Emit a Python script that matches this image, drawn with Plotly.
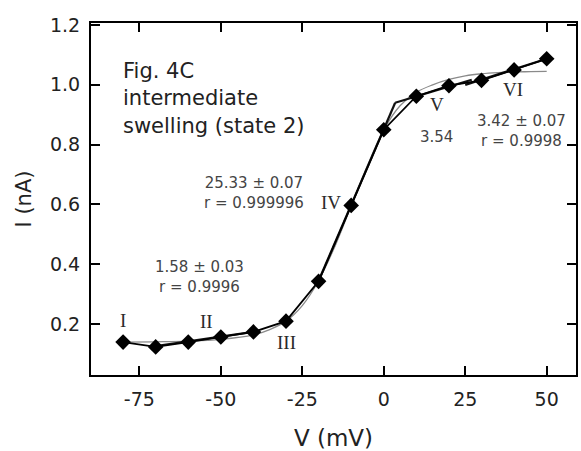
import plotly.graph_objects as go

# Measured data
v_data = [-80, -70, -60, -50, -40, -30, -20, -10, 0, 10, 20, 30, 40, 50]
i_data = [0.14, 0.124, 0.14, 0.157, 0.174, 0.21, 0.343, 0.597, 0.85, 0.962, 0.997, 1.015, 1.05, 1.087]

# Boltzmann fit curve
curve_v = [-80, -70, -60, -50, -40, -35, -30, -25, -20, -15, -10, -5, 0, 5, 10, 15, 20, 25, 30, 35, 40, 45, 50]
curve_i = [0.14, 0.141, 0.143, 0.149, 0.164, 0.182, 0.21, 0.262, 0.345, 0.46, 0.595, 0.73, 0.85, 0.93, 0.975, 1.0, 1.018, 1.03, 1.037, 1.041, 1.043, 1.044, 1.045]

# Linear fit segments (endpoints)
fit_II_v = [-70, -40]
fit_II_i = [0.127, 0.174]
fit_IV_v = [-20, 3.5]
fit_IV_i = [0.345, 0.94]
fit_V_v = [3.5, 27]
fit_V_i = [0.94, 1.017]
fit_VI_v = [25, 50]
fit_VI_i = [1.0, 1.087]

x_ticks = [-75, -50, -25, 0, 25, 50]
y_ticks = [0.2, 0.4, 0.6, 0.8, 1.0, 1.2]

fig = go.Figure()
fig.add_trace(go.Scatter(x=curve_v, y=curve_i, mode="lines", line=dict(color="#8a8a8a", width=1.3, shape="spline"), hoverinfo="skip"))
for fv, fi in [(fit_II_v, fit_II_i), (fit_IV_v, fit_IV_i), (fit_V_v, fit_V_i), (fit_VI_v, fit_VI_i)]:
    fig.add_trace(go.Scatter(x=fv, y=fi, mode="lines", line=dict(color="#111111", width=2.2)))
fig.add_trace(go.Scatter(x=v_data, y=i_data, mode="lines+markers",
                         line=dict(color="black", width=1.8),
                         marker=dict(symbol="diamond", size=12, color="black")))

serif = dict(family="Liberation Serif", size=19, color="#2a2a2a")
small = dict(family="DejaVu Sans", size=15, color="#444444")
ann = [
    dict(x=-80, y=0.212, text="I", font=serif),
    dict(x=-54.4, y=0.21, text="II", font=serif),
    dict(x=-30, y=0.138, text="III", font=serif),
    dict(x=-16.2, y=0.608, text="IV", font=serif),
    dict(x=16.3, y=0.935, text="V", font=serif),
    dict(x=39.6, y=0.983, text="VI", font=serif),
    dict(x=16.3, y=0.825, text="3.54", font=small),
    dict(x=42.3, y=0.847, text="3.42 ± 0.07<br>r = 0.9998", font=small),
    dict(x=-39.9, y=0.64, text="25.33 ± 0.07<br>r = 0.999996", font=small),
    dict(x=-56.6, y=0.357, text="1.58 ± 0.03<br>r = 0.9996", font=small),
    dict(x=-80.5, y=0.955, text="Fig. 4C<br>intermediate<br>swelling (state 2)", xanchor="left", align="left",
         font=dict(family="DejaVu Sans", size=21, color="#222222")),
]
for a in ann:
    a.setdefault("xanchor", "center")
    a.setdefault("yanchor", "middle")
    a["showarrow"] = False
    a["xref"] = "x"
    a["yref"] = "y"
fig.update_layout(annotations=ann)

axis_common = dict(showgrid=False, zeroline=False, showline=True, linecolor="black", linewidth=2,
                   mirror="ticks", ticks="inside", ticklen=9, tickwidth=1.5, tickcolor="black",
                   tickfont=dict(family="DejaVu Sans", size=19, color="#222222"))
fig.update_xaxes(range=[-89.85, 59.0], tickvals=x_ticks, ticktext=[str(t) for t in x_ticks],
                 ticklabelstandoff=6,
                 title=dict(text="V (mV)", font=dict(family="DejaVu Sans", size=23, color="#222222"), standoff=22),
                 **axis_common)
fig.update_yaxes(range=[0.03, 1.2067], tickvals=y_ticks, ticktext=["%.1f" % t for t in y_ticks],
                 ticklabelstandoff=5,
                 title=dict(text="I (nA)", font=dict(family="DejaVu Sans", size=21, color="#222222"), standoff=13),
                 **axis_common)
fig.update_layout(width=581, height=451, margin=dict(l=91, r=3, t=23, b=75),
                  plot_bgcolor="white", paper_bgcolor="white", showlegend=False)
fig.write_html("out.html")
